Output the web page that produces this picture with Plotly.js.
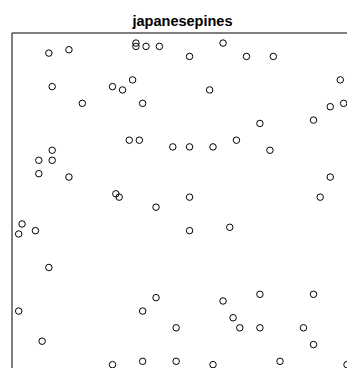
<!DOCTYPE html>
<html>
<head>
<meta charset="utf-8">
<script src="https://cdn.plot.ly/plotly-3.0.1.min.js"></script>
<style>html,body{margin:0;padding:0;background:#fff;overflow:hidden}#chart{width:347px;height:368px}</style>
</head>
<body>
<div id="chart"></div>
<script>
const chartTitle = "japanesepines";
const pineX = [0.11,0.17,0.37,0.37,0.40,0.44,0.53,0.63,0.70,0.78,
               0.12,0.30,0.33,0.36,0.59,0.98,0.21,0.39,0.95,0.99,
               0.74,0.90,0.35,0.38,0.48,0.53,0.60,0.67,0.77,0.12,
               0.08,0.12,0.08,0.17,0.95,0.31,0.32,0.53,0.92,0.43,
               0.03,0.02,0.07,0.53,0.65,0.11,0.02,0.39,0.43,0.63,
               0.74,0.90,0.66,0.68,0.74,0.87,0.49,0.09,0.90,0.30,
               0.39,0.49,0.60,0.80,1.00];
const pineY = [0.94,0.95,0.97,0.96,0.96,0.96,0.93,0.97,0.93,0.93,
               0.84,0.84,0.83,0.86,0.83,0.86,0.79,0.79,0.78,0.79,
               0.73,0.74,0.68,0.68,0.66,0.66,0.66,0.68,0.65,0.65,
               0.62,0.62,0.58,0.57,0.57,0.52,0.51,0.51,0.51,0.48,
               0.43,0.40,0.41,0.41,0.42,0.30,0.17,0.17,0.21,0.20,
               0.22,0.22,0.15,0.12,0.12,0.12,0.12,0.08,0.07,0.01,
               0.02,0.02,0.01,0.02,0.01];

const trace = {
  x: pineX, y: pineY, type: 'scatter', mode: 'markers',
  marker: {symbol: 'circle-open', size: 6.5, color: '#000', line: {width: 1, color: '#000'}},
  cliponaxis: false, hoverinfo: 'skip'
};
const layout = {
  width: 347, height: 368,
  margin: {l: 12, r: 0, t: 33, b: 0, pad: 0},
  paper_bgcolor: '#fff', plot_bgcolor: '#fff',
  showlegend: false,
  title: {text: chartTitle, x: 182.5/347, xanchor: 'center', y: 1 - 21/368, yanchor: 'middle',
          font: {family: 'Liberation Sans, Arial, sans-serif', size: 14.5, color: '#000', weight: 'bold'}},
  xaxis: {range: [0, 1], visible: false, fixedrange: true},
  yaxis: {range: [0, 1], visible: false, fixedrange: true},
  shapes: [
    {type: 'line', xref: 'paper', yref: 'paper', x0: 0, x1: 1.02, y0: 1, y1: 1, line: {color: '#000', width: 1}},
    {type: 'line', xref: 'paper', yref: 'paper', x0: 0, x1: 0, y0: -0.02, y1: 1, line: {color: '#000', width: 1}}
  ]
};
Plotly.newPlot('chart', [trace], layout, {staticPlot: true, displayModeBar: false});
</script>
</body>
</html>
